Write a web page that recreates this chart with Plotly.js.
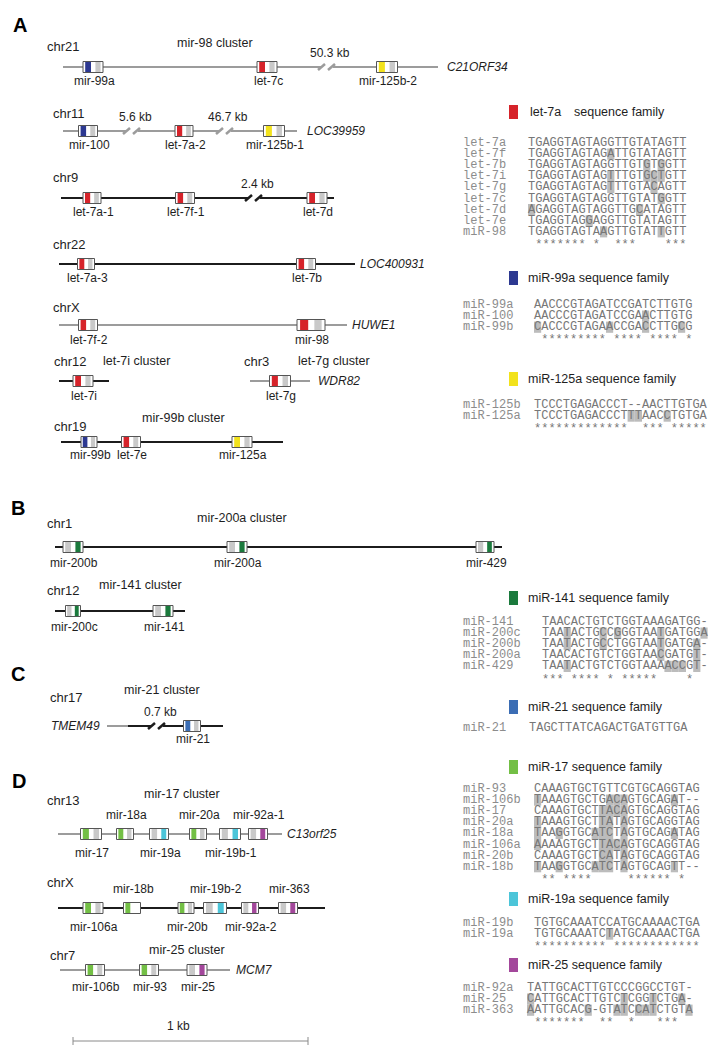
<!DOCTYPE html>
<html><head><meta charset="utf-8">
<script src="https://cdn.plot.ly/plotly-3.0.1.min.js"></script>
<style>html,body{margin:0;padding:0;background:#fff}#plot{width:716px;height:1048px}</style>
</head><body><div id="plot"></div>
<script>
// ================= DATA =================
// --- genomic tracks ---
const trackChrom   = ['chr21','chr11','chr9','chr22','chrX','chr12','chr3','chr19','chr1','chr12','chr17','chr13','chrX','chr7'];
const trackCluster = ['mir-98 cluster','','','','','let-7i cluster','let-7g cluster','mir-99b cluster','mir-200a cluster','mir-141 cluster','mir-21 cluster','mir-17 cluster','','mir-25 cluster'];
const trackHost    = ['C21ORF34','LOC39959','','LOC400931','HUWE1','','WDR82','','','','TMEM49','C13orf25','','MCM7'];
const trackSpan    = [[63,438],[63,297],[61,334],[59,355],[59,347],[59,109],[250,310],[61,283],[55,502],[55,185],[107,223],[58,282],[58,325],[60,230]];
const trackGreyUntil = [438,297,null,null,347,null,310,null,null,null,128,282,null,230];

// breaks in tracks with skipped distance
const breakTrack = [0,1,1,2,10];
const breakPos   = [327,132,225,254,157];
const breakLabel = ['50.3 kb','5.6 kb','46.7 kb','2.4 kb','0.7 kb'];

// miRNA precursors
const geneTrack  = [0,0,0, 1,1,1, 2,2,2, 3,3, 4,4, 5, 6, 7,7,7, 8,8,8, 9,9, 10, 11,11,11,11,11,11, 12,12,12,12,12,12, 13,13,13];
const geneName   = ['mir-99a','let-7c','mir-125b-2','mir-100','let-7a-2','mir-125b-1','let-7a-1','let-7f-1','let-7d','let-7a-3','let-7b','let-7f-2','mir-98','let-7i','let-7g','mir-99b','let-7e','mir-125a','mir-200b','mir-200a','mir-429','mir-200c','mir-141','mir-21','mir-17','mir-18a','mir-19a','mir-20a','mir-19b-1','mir-92a-1','mir-106a','mir-18b','mir-20b','mir-19b-2','mir-92a-2','mir-363','mir-106b','mir-93','mir-25'];
const geneCenter = [93,267,387, 88,184,274, 92,185,317, 86,306, 88,311, 83, 280, 89,131,242, 73,237,485, 73,163, 192, 91,125,159,198,230,258, 93,132,186,215,250,288, 95,149,197];
const geneWidth  = [20,20,21, 19,18,21, 18,19,20, 17,19, 19,28, 20, 21, 16,19,20, 20,20,18, 15,20, 17, 21,17,19,17,21,19, 20,17,16,23,17,19, 19,19,20];
const gene5p     = ['mir99','let7','mir125','mir99','let7','mir125','let7','let7','let7','let7','let7','let7','let7','let7','let7','mir99','let7','mir125','g','g','g','g','g','mir21','mir17','mir17','g','mir17','g','g','mir17','mir17','mir17','g','g','g','mir17','mir17','g'];
const gene3p     = ['g','g','g','g','g','g','g','g','g','g','g','g','g','g','g','g','g','g','mir141','mir141','mir141','mir141','mir141','g','g','g','mir19','g','mir19','mir25','g','w','g','mir19','mir25','mir25','g','g','mir25'];
const geneAbove  = ['mir-18a','mir-20a','mir-92a-1','mir-18b','mir-19b-2','mir-363'];

// --- sequence families ---
const famTitles = ['let-7a','miR-99a','miR-125a','miR-141','miR-21','miR-17','miR-19a','miR-25'];
const famColors = ['let7','mir99','mir125','mir141','mir21','mir17','mir19','mir25'];

const let7Names = ['let-7a','let-7f','let-7b','let-7i','let-7g','let-7c','let-7d','let-7e','miR-98'];
const let7Seqs  = ['TGAGGTAGTAGGTTGTATAGTT','TGAGGTAGTAGATTGTATAGTT','TGAGGTAGTAGGTTGTGTGGTT','TGAGGTAGTAGTTTGTGCTGTT','TGAGGTAGTAGTTTGTACAGTT','TGAGGTAGTAGGTTGTATGGTT','AGAGGTAGTAGGTTGCATAGTT','TGAGGTAGGAGGTTGTATAGTT','TGAGGTAGTAAGTTGTATTGTT'];
const let7Stars = ' ******* *  ***    ***';

const mir99Names = ['miR-99a','miR-100','miR-99b'];
const mir99Seqs  = ['AACCCGTAGATCCGATCTTGTG','AACCCGTAGATCCGAACTTGTG','CACCCGTAGAACCGACCTTGCG'];
const mir99Stars = ' ********* **** **** *';

const mir125Names = ['miR-125b','miR-125a'];
const mir125Seqs  = ['TCCCTGAGACCCT--AACTTGTGA','TCCCTGAGACCCTTTAACCTGTGA'];
const mir125Stars = '*************  *** *****';

const mir141Names = ['miR-141','miR-200c','miR-200b','miR-200a','miR-429'];
const mir141Seqs  = ['TAACACTGTCTGGTAAAGATGG-','TAATACTGCCGGGTAATGATGGA','TAATACTGCCTGGTAATGATGA-','TAACACTGTCTGGTAACGATGT-','TAATACTGTCTGGTAAAACCGT-'];
const mir141Stars = '*** **** * *****    *  ';

const mir21Names = ['miR-21'];
const mir21Seqs  = ['TAGCTTATCAGACTGATGTTGA'];
const mir21Stars = '';

const mir17Names = ['miR-93','miR-106b','miR-17','miR-20a','miR-18a','miR-106a','miR-20b','miR-18b'];
const mir17Seqs  = ['CAAAGTGCTGTTCGTGCAGGTAG','TAAAGTGCTGACAGTGCAGAT--','CAAAGTGCTTACAGTGCAGGTAG','TAAAGTGCTTATAGTGCAGGTAG','TAAGGTGCATCTAGTGCAGATAG','AAAAGTGCTTACAGTGCAGGTAG','CAAAGTGCTCATAGTGCAGGTAG','TAAGGTGCATCTAGTGCAGTT--'];
const mir17Stars = ' ** ****     ****** *  ';

const mir19Names = ['miR-19b','miR-19a'];
const mir19Seqs  = ['TGTGCAAATCCATGCAAAACTGA','TGTGCAAATCTATGCAAAACTGA'];
const mir19Stars = '********** ************';

const mir25Names = ['miR-92a','miR-25','miR-363'];
const mir25Seqs  = ['TATTGCACTTGTCCCGGCCTGT-','CATTGCACTTGTCTCGGTCTGA-','AATTGCACG-GTATCCATCTGTA'];
const mir25Stars = ' *******  **  *   ***  ';

// ================= LAYOUT / STYLE =================
const COL = {let7:'#d6232a', mir99:'#2d3991', mir125:'#f2e21c', mir141:'#1b7a3d', mir21:'#3b6db4',
             mir17:'#73bf45', mir19:'#4cc5d9', mir25:'#a3479b', g:'#c9c9c9', w:'#ffffff'};
const BLACK = '#1c1c1c', GREY = '#9c9c9c';
const SANS = 'Liberation Sans, Arial, Helvetica, sans-serif';
const MONO = 'Liberation Mono, Courier New, monospace';

const trackY      = [67,131,198,264,325,381,381,442,547,611,726,834,908,970];
const chromLabelX = [47,53,53,53,53,54,244,54,47,47,50,47,47,50];
const chromLabelY = [46,113,177,244,307,361,361,426,523,590,697,800,882,955];
const clusterX    = [215,0,0,0,0,136,334,183,242,140,162,182,0,187];
const clusterY    = [43,0,0,0,0,361,361,418,518,585,690,794,0,950];
const hostX       = [447,307,0,360,352,0,318,0,0,0,100,287,0,236];
const labelDy     = [14,14,14,14,15,15,15,13,16,16,13,19,19,17];

const famNames  = [let7Names,mir99Names,mir125Names,mir141Names,mir21Names,mir17Names,mir19Names,mir25Names];
const famSeqs   = [let7Seqs,mir99Seqs,mir125Seqs,mir141Seqs,mir21Seqs,mir17Seqs,mir19Seqs,mir25Seqs];
const famStars  = [let7Stars,mir99Stars,mir125Stars,mir141Stars,mir21Stars,mir17Stars,mir19Stars,mir25Stars];
const famLegendY= [112,278,379,598,707,767,899,965];
const famRowY   = [143,305,405,622,728,789,923,988];
const famSeqX   = [528,534,534,542,529,534,534,527];
const NAME_X = 463, CHAR_W = 7.2, ROW_H = 11.1;

// ================= BUILD =================
const shapes = [], annotations = [];
function rect(x0,x1,y0,y1,fill,lc,lw,layer){const s={type:'rect',xref:'x',yref:'y',x0,x1,y0,y1,fillcolor:fill,line:{color:lc||'rgba(0,0,0,0)',width:lw||0}}; if(layer) s.layer=layer; shapes.push(s);}
function seg(x0,y0,x1,y1,color,w){shapes.push({type:'line',xref:'x',yref:'y',x0,y0,x1,y1,line:{color,width:w}});}
function ann(x,y,text,o){o=o||{};annotations.push({x,y,xref:'x',yref:'y',text,showarrow:false,xanchor:o.xa||'center',yanchor:'middle',
  borderpad:0,borderwidth:0,font:{family:o.fam||SANS,size:o.size||12,color:o.color||'#1e1e1e'}});}

// panel letters
[['A',20,25],['B',18,508],['C',18,674],['D',19,781]].forEach(p=>ann(p[1],p[2],'<b>'+p[0]+'</b>',{size:20,color:'#000'}));

// tracks
trackChrom.forEach((c,i)=>{
  const y=trackY[i], s=trackSpan[i][0], e=trackSpan[i][1], g=trackGreyUntil[i];
  if(g===null) seg(s,y,e,y,BLACK,2);
  else { seg(s,y,g,y,GREY,2); if(g<e) seg(g,y,e,y,BLACK,2); }
  ann(chromLabelX[i],chromLabelY[i],c,{xa:'left',size:13});
  if(trackCluster[i]) ann(clusterX[i],clusterY[i],trackCluster[i],{size:12.5});
  if(trackHost[i]) ann(hostX[i],y,'<i>'+trackHost[i]+'</i>',{xa:i===10?'right':'left',size:12});
});

// breaks
breakTrack.forEach((t,k)=>{
  const y=trackY[t], x=breakPos[k], g=trackGreyUntil[t];
  const c=(g!==null && x<g)?GREY:BLACK;
  rect(x-6,x+6,y-2,y+2,'#ffffff');
  seg(x-9,y+3,x-2,y-3,c,2.5);
  seg(x+1,y+3,x+8,y-3,c,2.5);
  ann(x+3,y-14,breakLabel[k],{size:12});
});

// genes
geneName.forEach((n,k)=>{
  const t=geneTrack[k], y=trackY[t], w=geneWidth[k], x0=geneCenter[k]-w/2, h=5.5;
  rect(x0,x0+w,y-h,y+h,'#ffffff');
  if(gene5p[k]!=='w') rect(x0+0.11*w,x0+0.4*w,y-h,y+h,COL[gene5p[k]]);
  if(gene3p[k]!=='w') rect(x0+0.62*w,x0+0.88*w,y-h,y+h,COL[gene3p[k]]);
  rect(x0,x0+w,y-h,y+h,'rgba(0,0,0,0)','#555555',1);
  const above=geneAbove.indexOf(n)>=0;
  ann(geneCenter[k]+1,above?y-labelDy[t]:y+labelDy[t],n,{size:12});
});

// scale bar
seg(73,1041,308,1041,'#8a8a8a',1); seg(73,1037,73,1045,'#8a8a8a',1); seg(308,1037,308,1045,'#8a8a8a',1);
ann(178,1026,'1 kb',{size:12});

// sequence families: each residue is placed in its alignment column
const cx=[], cy=[], ct=[];
famTitles.forEach((title,f)=>{
  const ly=famLegendY[f];
  rect(509,518,ly-7,ly+7,COL[famColors[f]]);
  if(f===0){ ann(530,ly,title,{xa:'left',size:12.5}); ann(574,ly,'sequence family',{xa:'left',size:12.5}); }
  else ann(528,ly,title+' sequence family',{xa:'left',size:12.5});
  const names=famNames[f], seqs=famSeqs[f], ref=seqs[0], sx=famSeqX[f];
  names.forEach((nm,j)=>{
    const y=famRowY[f]+j*ROW_H, s=seqs[j];
    ann(NAME_X,y,nm,{xa:'left',fam:MONO,size:12,color:'#8c8c8c'});
    for(let i=0;i<s.length;i++){
      if(j>0 && s[i]!==ref[i] && s[i]!=='-') rect(sx+i*CHAR_W,sx+(i+1)*CHAR_W,y-5.6,y+5.6,'#bcbcbc','',0,'below');
      cx.push(sx+(i+0.5)*CHAR_W); cy.push(y); ct.push(s[i]);
    }
  });
  const st=famStars[f], sy=famRowY[f]+names.length*ROW_H+2;
  for(let i=0;i<st.length;i++) if(st[i]==='*'){cx.push(sx+(i+0.5)*CHAR_W); cy.push(sy); ct.push('*');}
});

const trace={type:'scatter',mode:'text',x:cx,y:cy,text:ct,textposition:'middle center',
  textfont:{family:MONO,size:12,color:'#777777'},hoverinfo:'skip',cliponaxis:false,showlegend:false};

Plotly.newPlot('plot',[trace],{
  width:716,height:1048,margin:{l:0,r:0,t:0,b:0},paper_bgcolor:'#fff',plot_bgcolor:'#fff',showlegend:false,
  xaxis:{range:[0,716],visible:false,fixedrange:true},
  yaxis:{range:[1048,0],visible:false,fixedrange:true},
  shapes,annotations
},{staticPlot:true,displayModeBar:false});
</script></body></html>
